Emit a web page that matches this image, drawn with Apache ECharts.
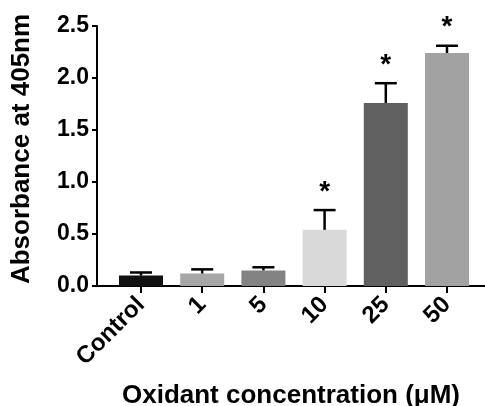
<!DOCTYPE html>
<html>
<head>
<meta charset="utf-8">
<script src="https://cdn.jsdelivr.net/npm/echarts@6/dist/echarts.min.js"></script>
<style>
  html, body { margin: 0; padding: 0; background: #fff; }
  #chart { width: 485px; height: 406px; }
</style>
</head>
<body>
<div id="chart"></div>
<script>
const categories = ["Control", "1", "5", "10", "25", "50"];
const means = [0.10, 0.12, 0.15, 0.54, 1.76, 2.24];
const upperErrors = [0.13, 0.16, 0.18, 0.73, 1.95, 2.31];
const significant = [false, false, false, true, true, true];
const barColors = ["#111111", "#a6a6a6", "#838383", "#d9d9d9", "#606060", "#a2a2a2"];

const font = "Liberation Sans, Arial, sans-serif";

const chart = echarts.init(document.getElementById("chart"));

chart.setOption({
  animation: false,
  grid: [
    // frame grid: carries the y axis and the full-width baseline
    { left: 97, right: 0, top: 26, bottom: 120, outerBoundsMode: "none", containLabel: false },
    // bar grid: categories inset from the y axis like the original
    { left: 110.4, right: 7.4, top: 26, bottom: 120, outerBoundsMode: "none", containLabel: false }
  ],
  xAxis: [
    {
      gridIndex: 0,
      type: "value",
      min: 0,
      max: 1,
      axisLine: { show: true, onZero: false, lineStyle: { color: "#000", width: 2 } },
      axisTick: { show: false },
      axisLabel: { show: false },
      splitLine: { show: false },
      name: "Oxidant concentration (\u03bcM)",
      nameLocation: "middle",
      nameGap: 97,
      nameTextStyle: { fontFamily: font, fontWeight: "bold", fontSize: 26, color: "#000" }
    },
    {
      gridIndex: 1,
      type: "category",
      data: categories,
      axisLine: { show: false },
      axisTick: { show: true, alignWithLabel: true, length: 7, lineStyle: { color: "#000", width: 2 } },
      axisLabel: {
        rotate: 45,
        margin: 15,
        fontFamily: font,
        fontWeight: "bold",
        fontSize: 24,
        color: "#000"
      }
    }
  ],
  yAxis: [
    {
      gridIndex: 0,
      type: "value",
      min: 0,
      max: 2.5,
      interval: 0.5,
      axisLine: { show: true, lineStyle: { color: "#000", width: 2 } },
      axisTick: { show: true, length: 5, lineStyle: { color: "#000", width: 2 } },
      splitLine: { show: false },
      axisLabel: {
        margin: 8,
        formatter: (v) => v.toFixed(1),
        fontFamily: font,
        fontWeight: "bold",
        fontSize: 23,
        color: "#000"
      },
      name: "Absorbance at 405nm",
      nameLocation: "middle",
      nameGap: 62,
      nameTextStyle: { fontFamily: font, fontWeight: "bold", fontSize: 26, color: "#000", padding: [0, 0, 0, 14] }
    },
    {
      gridIndex: 1,
      type: "value",
      min: 0,
      max: 2.5,
      show: false
    }
  ],
  series: [
    {
      type: "bar",
      xAxisIndex: 1,
      yAxisIndex: 1,
      barWidth: 44,
      data: means.map((v, i) => ({ value: v, itemStyle: { color: barColors[i] } })),
      z: 2
    },
    {
      // upper error bars plus significance stars
      type: "custom",
      xAxisIndex: 1,
      yAxisIndex: 1,
      z: 3,
      data: means.map((v, i) => [i, v, upperErrors[i], significant[i] ? 1 : 0]),
      renderItem: function (params, api) {
        const base = api.coord([api.value(0), api.value(1)]);
        const top = api.coord([api.value(0), api.value(2)]);
        const half = 11;
        const style = { stroke: "#000", lineWidth: 2.5 };
        const children = [
          { type: "line", shape: { x1: base[0], y1: base[1], x2: top[0], y2: top[1] }, style: style },
          { type: "line", shape: { x1: top[0] - half, y1: top[1], x2: top[0] + half, y2: top[1] }, style: style }
        ];
        if (api.value(3)) {
          children.push({
            type: "text",
            style: {
              text: "*",
              x: top[0],
              y: top[1] - 4,
              align: "center",
              verticalAlign: "bottom",
              fontFamily: font,
              fontWeight: "bold",
              fontSize: 28,
              fill: "#000"
            }
          });
        }
        return { type: "group", children: children };
      }
    }
  ]
});
</script>
</body>
</html>
